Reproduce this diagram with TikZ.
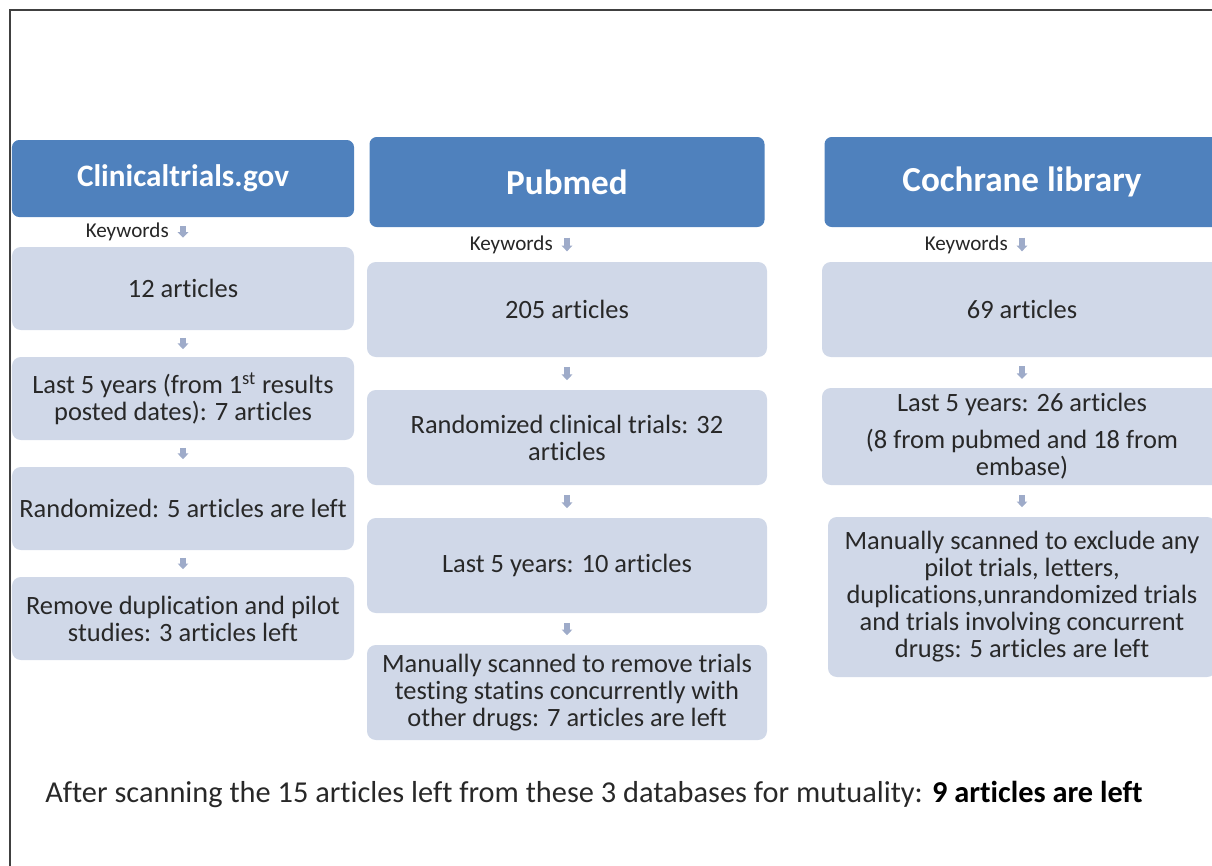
\documentclass[tikz,border=0pt]{standalone}
\usepackage{fontspec}
\setmainfont[Ligatures=NoCommon]{Carlito}
\usepackage{xcolor}
\usepackage{tikz}
\usetikzlibrary{positioning}
\usetikzlibrary{arrows.meta}
\pgfdeclarelayer{nodelayer}
\pgfdeclarelayer{edgelayer}
\pgfsetlayers{nodelayer,edgelayer,main}
\definecolor{headblue}{RGB}{79,129,189}
\definecolor{boxfill}{RGB}{208,216,232}
\definecolor{flowgray}{RGB}{158,171,201}
\definecolor{textgray}{RGB}{40,40,40}
\definecolor{framegray}{RGB}{64,64,64}
\tikzset{
    header/.style = {rectangle, rounded corners=0.18cm, fill=headblue, text=white,
      font=\bfseries\fontsize{25}{26}\selectfont, inner sep=0pt},
    stepbox/.style = {rectangle, rounded corners=0.22cm, fill=boxfill, text=textgray,
      align=center, font=\fontsize{18.8}{19.2}\selectfont, inner sep=0pt},
    flow/.style = {draw=flowgray, line width=4pt, -{Triangle[width=7.5pt, length=4pt]},
      shorten <=#1, shorten >=#1},
    keyword/.style = {inner sep=0pt, font=\fontsize{15}{16}\selectfont, text=black!85}
}
\begin{document}
\begin{tikzpicture}
  \useasboundingbox (0,0) rectangle (30.3,-21.65);
  \draw [line width=2pt, framegray] (0.25,-21.65) -- (0.25,-0.25) -- (30.3,-0.25);
  \begin{pgfonlayer}{nodelayer}
    % Clinicaltrials.gov
    \node [header, font=\bfseries\fontsize{22.2}{23}\selectfont, minimum width=8.55cm, minimum height=1.925cm] (0) at (4.575, -4.4625) {Clinicaltrials.gov};
    \node [stepbox, minimum width=8.55cm, minimum height=2.075cm] (1) at (4.575, -7.2125) {12 articles};
    \node [stepbox, minimum width=8.55cm, minimum height=2.075cm] (2) at (4.575, -9.9625) {Last 5 years (from 1\textsuperscript{st} results\\posted dates): 7 articles};
    \node [stepbox, minimum width=8.55cm, minimum height=2.075cm] (3) at (4.575, -12.7125) {Randomized: 5 articles are left};
    \node [stepbox, minimum width=8.55cm, minimum height=2.075cm] (4) at (4.575, -15.4625) {Remove duplication and pilot\\studies: 3 articles left};
    % Pubmed
    \node [header, minimum width=9.875cm, minimum height=2.25cm] (5) at (14.175, -4.55) {Pubmed};
    \node [stepbox, minimum width=10cm, minimum height=2.375cm] (6) at (14.175, -7.7375) {205 articles};
    \node [stepbox, minimum width=10cm, minimum height=2.375cm] (7) at (14.175, -10.9375) {Randomized clinical trials: 32\\articles};
    \node [stepbox, minimum width=10cm, minimum height=2.375cm] (8) at (14.175, -14.1375) {Last 5 years: 10 articles};
    \node [stepbox, minimum width=10cm, minimum height=2.375cm] (9) at (14.175, -17.3125) {Manually scanned to remove trials\\testing statins concurrently with\\other drugs: 7 articles are left};
    % Cochrane library
    \node [header, minimum width=9.875cm, minimum height=2.25cm] (10) at (25.55, -4.55) {Cochrane library};
    \node [stepbox, minimum width=10cm, minimum height=2.375cm] (11) at (25.55, -7.7375) {69 articles};
    \node [stepbox, minimum width=10cm, minimum height=2.425cm] (12) at (25.55, -10.9125) {Last 5 years: 26 articles\\[0.25cm](8 from pubmed and 18 from\\embase)};
    \node [stepbox, minimum width=9.7cm, minimum height=4cm] (13) at (25.55, -14.925) {Manually scanned to exclude any\\pilot trials, letters,\\duplications,unrandomized trials\\and trials involving concurrent\\drugs: 5 articles are left};
    \node [anchor=base west, inner sep=0pt, text=textgray, font=\fontsize{21.6}{23}\selectfont] (14) at (1.125, -20.05) {After scanning the 15 articles left from these 3 databases for mutuality: \textbf{\color{black}9 articles are left}};
  \end{pgfonlayer}
  \begin{pgfonlayer}{edgelayer}
    \draw [flow=0.225cm] (0) -- coordinate (k0) (1);
    \draw [flow=0.19cm] (1) -- (2);
    \draw [flow=0.19cm] (2) -- (3);
    \draw [flow=0.19cm] (3) -- (4);
    \draw [flow=0.26cm] (5) -- coordinate (k5) (6);
    \draw [flow=0.24cm] (6) -- (7);
    \draw [flow=0.24cm] (7) -- (8);
    \draw [flow=0.24cm] (8) -- (9);
    \draw [flow=0.26cm] (10) -- coordinate (k10) (11);
    \draw [flow=0.22cm] (11) -- (12);
    \draw [flow=0.24cm] (12) -- (13);
    \node [keyword, left=0.35cm of k0] {Keywords};
    \node [keyword, left=0.35cm of k5] {Keywords};
    \node [keyword, left=0.35cm of k10] {Keywords};
  \end{pgfonlayer}
\end{tikzpicture}
\end{document}
